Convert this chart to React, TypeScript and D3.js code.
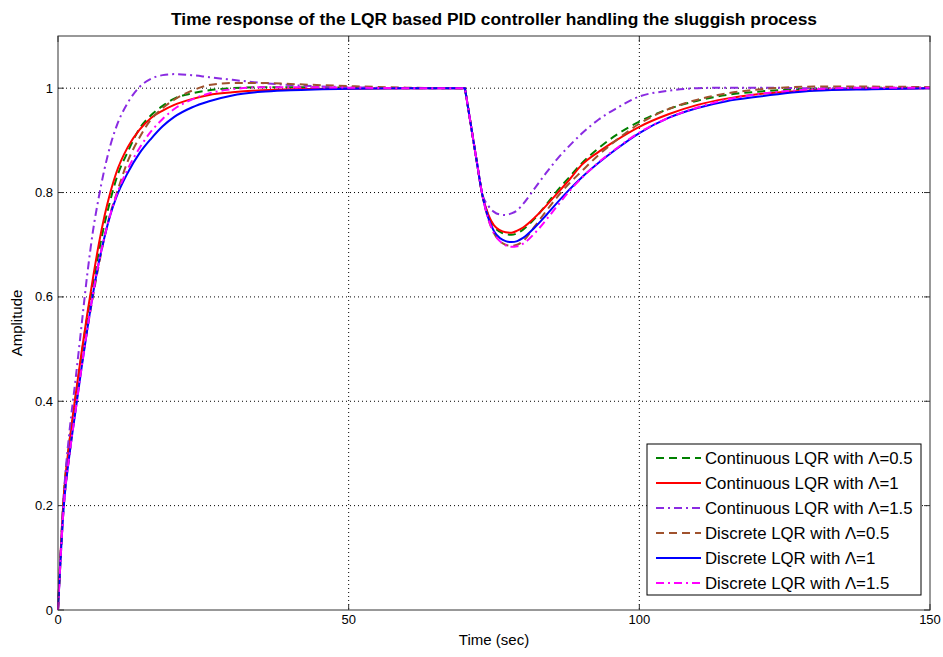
import React from 'react'
import * as d3 from 'd3'

// sample times (sec)
const time = [0, 1, 2, 3, 4, 5, 6, 7, 8, 9, 10, 12, 14, 16, 18, 20, 23, 26, 30, 35, 40, 50, 60, 70,
  71, 72, 73, 74, 75, 76, 77, 78, 79, 80, 82, 84, 86, 88, 90, 93, 96, 100, 105, 110, 115, 120, 130, 140, 150]

const contHalf = [0, 0.22, 0.325, 0.405, 0.485, 0.56, 0.625, 0.685, 0.74, 0.785, 0.825, 0.878, 0.922, 0.948, 0.966, 0.98, 0.99, 0.996, 1.0, 1.002, 1.002, 1.001, 1.0, 1.0,
  0.931, 0.862, 0.795, 0.757, 0.735, 0.725, 0.72, 0.719, 0.722, 0.729, 0.75, 0.777, 0.805, 0.83, 0.855, 0.885, 0.91, 0.936, 0.96, 0.976, 0.987, 0.993, 0.999, 1.001, 1.001]
const contOne = [0, 0.22, 0.325, 0.41, 0.49, 0.565, 0.635, 0.7, 0.755, 0.8, 0.837, 0.887, 0.92, 0.943, 0.957, 0.968, 0.979, 0.987, 0.992, 0.996, 0.998, 0.999, 1.0, 1.0,
  0.931, 0.862, 0.795, 0.758, 0.737, 0.728, 0.724, 0.723, 0.727, 0.733, 0.752, 0.775, 0.8, 0.825, 0.852, 0.878, 0.9, 0.926, 0.95, 0.968, 0.98, 0.988, 0.996, 0.999, 1.0]
const contOneHalf = [0, 0.22, 0.345, 0.44, 0.54, 0.64, 0.725, 0.79, 0.845, 0.89, 0.925, 0.972, 1.002, 1.018, 1.025, 1.027, 1.025, 1.021, 1.016, 1.01, 1.006, 1.002, 1.0, 1.0,
  0.931, 0.862, 0.797, 0.775, 0.763, 0.758, 0.757, 0.76, 0.766, 0.778, 0.808, 0.838, 0.866, 0.89, 0.912, 0.94, 0.961, 0.984, 0.995, 1.0, 1.001, 1.001, 1.0, 1.0, 1.0]
const discHalf = [0, 0.2, 0.3, 0.385, 0.465, 0.535, 0.6, 0.66, 0.715, 0.76, 0.795, 0.86, 0.905, 0.94, 0.962, 0.978, 0.995, 1.006, 1.01, 1.01, 1.008, 1.004, 1.001, 1.0,
  0.931, 0.862, 0.795, 0.75, 0.722, 0.707, 0.7, 0.698, 0.7, 0.707, 0.735, 0.765, 0.793, 0.818, 0.84, 0.872, 0.9, 0.932, 0.96, 0.978, 0.99, 0.997, 1.003, 1.003, 1.002]
const discOne = [0, 0.2, 0.3, 0.38, 0.46, 0.535, 0.605, 0.665, 0.715, 0.757, 0.79, 0.838, 0.875, 0.903, 0.927, 0.945, 0.963, 0.975, 0.986, 0.993, 0.996, 0.999, 1.0, 1.0,
  0.931, 0.862, 0.795, 0.752, 0.726, 0.713, 0.707, 0.705, 0.707, 0.713, 0.733, 0.757, 0.782, 0.806, 0.828, 0.857, 0.883, 0.914, 0.943, 0.962, 0.975, 0.983, 0.995, 0.998, 1.0]
const discOneHalf = [0, 0.2, 0.3, 0.38, 0.46, 0.535, 0.605, 0.665, 0.715, 0.758, 0.793, 0.845, 0.885, 0.917, 0.941, 0.96, 0.978, 0.99, 0.998, 1.002, 1.002, 1.001, 1.0, 1.0,
  0.931, 0.862, 0.795, 0.75, 0.722, 0.707, 0.699, 0.696, 0.697, 0.702, 0.722, 0.748, 0.776, 0.803, 0.827, 0.858, 0.884, 0.915, 0.943, 0.963, 0.978, 0.988, 0.998, 1.001, 1.001]

const labels = [
  'Continuous LQR with \u039B=0.5',
  'Continuous LQR with \u039B=1',
  'Continuous LQR with \u039B=1.5',
  'Discrete LQR with \u039B=0.5',
  'Discrete LQR with \u039B=1',
  'Discrete LQR with \u039B=1.5',
]
const colors = ['#008000', '#ff0000', '#8a2be2', '#a0522d', '#0000ff', '#ff00ff']
const dashes = ['8,5', null, '8,4,2,4', '8,5', null, '8,4,2,4']
const values = [contHalf, contOne, contOneHalf, discHalf, discOne, discOneHalf]

const xTicks = [0, 50, 100, 150]
const yTicks = [0, 0.2, 0.4, 0.6, 0.8, 1]

const W = 943
const H = 657
const margin = { top: 36, right: 13, bottom: 47, left: 58 }
const font = '"Liberation Sans", Arial, Helvetica, sans-serif'

export default function App () {
  const iw = W - margin.left - margin.right
  const ih = H - margin.top - margin.bottom
  const x = d3.scaleLinear().domain([0, 150]).range([0, iw])
  const y = d3.scaleLinear().domain([0, 1.1]).range([ih, 0])

  // split at the disturbance so the corner at t=70 stays sharp
  const brk = time.indexOf(70)
  const lineFrom = (offset: number) => d3.line<number>()
    .x((d, i) => x(time[i + offset]))
    .y(d => y(d))
    .curve(d3.curveMonotoneX)
  const pathFor = (vals: number[]) => {
    const a = lineFrom(0)(vals.slice(0, brk + 1)) || ''
    const b = lineFrom(brk)(vals.slice(brk)) || ''
    return a + b.replace(/^M/, 'L')
  }

  const lg = { x: 647 - margin.left, y: 444 - margin.top, w: 274, h: 151 }

  return (
    <svg width={W} height={H} style={{ position: 'absolute', left: 0, top: 0, background: '#fff' }}
      fontFamily={font}>
      <text x={margin.left + iw / 2} y={25} textAnchor='middle' fontSize={16} fontWeight='bold'
        textLength={646} lengthAdjust='spacingAndGlyphs'>
        Time response of the LQR based PID controller handling the sluggish process
      </text>
      <g transform={`translate(${margin.left},${margin.top})`}>
        {/* grid */}
        {xTicks.slice(1, -1).map(t => (
          <line key={'gx' + t} x1={x(t)} x2={x(t)} y1={0} y2={ih} stroke='#000' strokeDasharray='1,3' />
        ))}
        {yTicks.slice(1).map(t => (
          <line key={'gy' + t} x1={0} x2={iw} y1={y(t)} y2={y(t)} stroke='#000' strokeDasharray='1,3' />
        ))}
        {/* ticks on all four sides */}
        {xTicks.map(t => (
          <g key={'tx' + t}>
            <line x1={x(t)} x2={x(t)} y1={ih} y2={ih - 6} stroke='#333' />
            <line x1={x(t)} x2={x(t)} y1={0} y2={6} stroke='#333' />
            <text x={x(t)} y={ih + 14} textAnchor='middle' fontSize={13}>{t}</text>
          </g>
        ))}
        {yTicks.map(t => (
          <g key={'ty' + t}>
            <line x1={0} x2={6} y1={y(t)} y2={y(t)} stroke='#333' />
            <line x1={iw} x2={iw - 6} y1={y(t)} y2={y(t)} stroke='#333' />
            <text x={-5} y={y(t)} dy='0.35em' textAnchor='end' fontSize={13}>{t}</text>
          </g>
        ))}
        {values.map((v, i) => (
          <path key={'s' + i} d={pathFor(v)} fill='none' stroke={colors[i]} strokeWidth={2}
            strokeDasharray={dashes[i] || undefined} />
        ))}
        <rect x={0} y={0} width={iw} height={ih} fill='none' stroke='#333' />
        {/* legend */}
        <g transform={`translate(${lg.x},${lg.y})`}>
          <rect width={lg.w} height={lg.h} fill='#fff' stroke='#000' />
          {labels.map((l, i) => (
            <g key={'l' + i} transform={`translate(0,${14 + i * 25})`}>
              <line x1={9} x2={54} y1={0} y2={0} stroke={colors[i]} strokeWidth={2}
                strokeDasharray={dashes[i] || undefined} />
              <text x={58} y={0} dy='0.35em' fontSize={16.8}>{l}</text>
            </g>
          ))}
        </g>
      </g>
      <text x={margin.left + iw / 2} y={645} textAnchor='middle' fontSize={15}>Time (sec)</text>
      <text transform={`translate(22,${margin.top + ih / 2}) rotate(-90)`} textAnchor='middle' fontSize={15}>Amplitude</text>
    </svg>
  )
}
